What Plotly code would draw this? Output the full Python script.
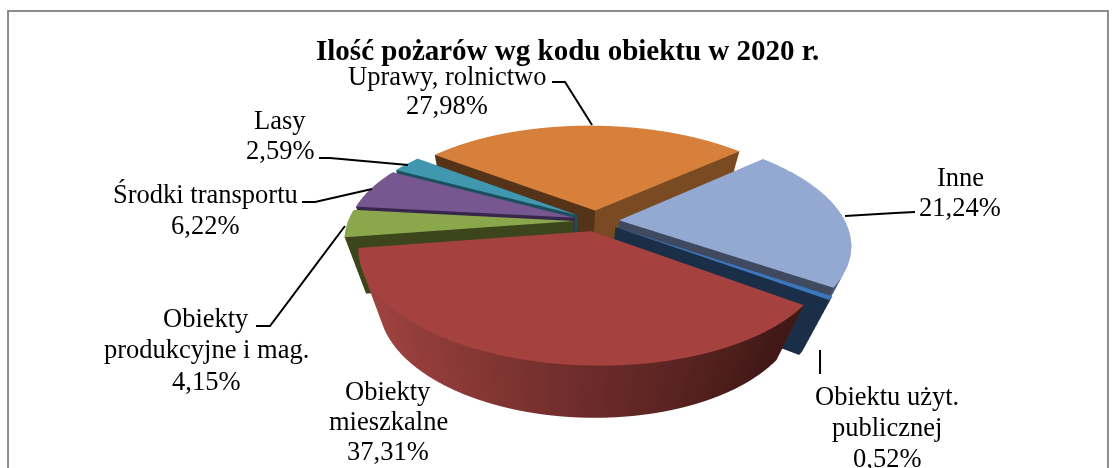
import numpy as np
import plotly.graph_objects as go

categories = ["Uprawy, rolnictwo", "Inne", "Obiektu użyt. publicznej", "Obiekty mieszkalne",
              "Obiekty produkcyjne i mag.", "Środki transportu", "Lasy"]
values = [27.98, 21.24, 0.52, 37.31, 4.15, 6.22, 2.59]
label_lines = [["Uprawy, rolnictwo", "27,98%"], ["Inne", "21,24%"], ["Obiektu użyt.", "publicznej", "0,52%"],
               ["Obiekty", "mieszkalne", "37,31%"], ["Obiekty", "produkcyjne i mag.", "4,15%"],
               ["Środki transportu", "6,22%"], ["Lasy", "2,59%"]]
title_text = "Ilość pożarów wg kodu obiektu w 2020 r."

top_colors = ["#D7803C", "#94A9D1", "#3C76BD", "#A5423F", "#8AA74C", "#76578F", "#3F97B0"]
side_start = ["#553318", "#3F4A60", "#1A2F47", "#421A17", "#3C451C", "#38264D", "#1C4E5C"]
side_end = ["#7A4B22", "#3F4A60", "#1A2F47", "#421A17", "#3C451C", "#38264D", "#1C4E5C"]
rim_left = ["#7A4B22", "#3F4A60", "#1A2F47", "#9E4240", "#3C451C", "#38264D", "#1C4E5C"]
rim_right = ["#7A4B22", "#4A5773", "#1A2F47", "#401816", "#3C451C", "#38264D", "#1C4E5C"]

W, H = 1116, 468
START_DEG, PULL, DEPTH = -52.0, 0.10, 0.39
EYE_D, EYE_ELEV = 2.1, 45.0
ASPECT_X, ASPECT_Y, ASPECT_Z = 2.46, 1.65, 2.42
CENTER_X, CENTER_Z = -0.14, 0.247


def hex_rgb(c):
    return np.array([int(c[i:i + 2], 16) for i in (1, 3, 5)], dtype=float)


def rgb_str(a):
    return "rgb(%d,%d,%d)" % tuple(np.round(a))


def slice_mesh(a0, a1, i):
    mid = np.radians((a0 + a1) / 2)
    ox, oy = PULL * np.sin(mid), PULL * np.cos(mid)
    th = np.radians(np.linspace(a0, a1, max(3, int((a1 - a0) / 1.5) + 2)))
    rx, ry = ox + np.sin(th), oy + np.cos(th)
    n = len(th)
    xs, ys, zs, cols, I, J, K = [], [], [], [], [], [], []

    def add(x, y, z, c):
        xs.append(x); ys.append(y); zs.append(z); cols.append(c)
        return len(xs) - 1

    def tri(a, b, c):
        I.append(a); J.append(b); K.append(c)

    def quad(a, b, c, d):
        tri(a, b, c); tri(a, c, d)

    top = top_colors[i]
    c0 = add(ox, oy, DEPTH, top)
    idx = [add(rx[k], ry[k], DEPTH, top) for k in range(n)]
    for k in range(n - 1):
        tri(c0, idx[k], idx[k + 1])
    for col, k in ((side_start[i], 0), (side_end[i], n - 1)):
        a = add(ox, oy, DEPTH, col); b = add(ox, oy, 0, col)
        c = add(rx[k], ry[k], 0, col); d = add(rx[k], ry[k], DEPTH, col)
        quad(a, b, c, d)
    L, R = hex_rgb(rim_left[i]), hex_rgb(rim_right[i])
    up, lo = [], []
    for k in range(n):
        t = np.clip((rx[k] + 0.9) / 1.6, 0, 1)
        col = rgb_str(L + (R - L) * t)
        up.append(add(rx[k], ry[k], DEPTH, col))
        lo.append(add(rx[k], ry[k], 0, col))
    for k in range(n - 1):
        quad(up[k], lo[k], lo[k + 1], up[k + 1])
    return go.Mesh3d(x=xs, y=ys, z=zs, i=I, j=J, k=K, vertexcolor=cols, name=categories[i],
                     flatshading=True, hoverinfo="name",
                     lighting=dict(ambient=1, diffuse=0, specular=0, roughness=1, fresnel=0))


fig = go.Figure()
total = sum(values)
cum = START_DEG
for i, v in enumerate(values):
    span = v / total * 360
    fig.add_trace(slice_mesh(cum, cum + span, i))
    cum += span


def px(x):
    return x / W


def py(y):
    return 1 - y / H


def leader(points, color="black"):
    d = "M " + " L ".join(f"{px(x):.4f},{py(y):.4f}" for x, y in points)
    return dict(type="path", xref="paper", yref="paper", path=d, line=dict(color=color, width=2), layer="above")


leaders = [
    [(552, 82), (565, 82), (592, 125)],
    [(915, 212), (895, 213), (845, 216)],
    [(820, 350), (820, 374)],
    [(256, 326), (270, 326), (345, 226)],
    [(302, 202), (315, 202), (372, 189)],
    [(319, 158), (330, 158), (408, 165)],
]
shapes = [leader(p) for p in leaders]
shapes.append(leader([(8, 468), (8, 11), (1108, 11), (1108, 468)], "#8C8C8C"))

label_x = [447, 960, 887, 388, 206, 205, 280]
label_y = [[76, 105], [177, 207], [396, 427, 458], [391, 421, 451], [318, 349, 381], [194, 225], [120, 150]]
annotations = []
for lines, x, ys in zip(label_lines, label_x, label_y):
    for t, y in zip(lines, ys):
        annotations.append(dict(text=t, x=px(x), y=py(y), xref="paper", yref="paper", showarrow=False,
                                xanchor="center", yanchor="middle",
                                font=dict(family="Liberation Serif", size=26.5, color="black")))
annotations.append(dict(text="<b>" + title_text + "</b>", x=px(567), y=py(50), xref="paper", yref="paper",
                        showarrow=False, xanchor="center", yanchor="middle",
                        font=dict(family="Liberation Serif", size=29, color="black")))

elev = np.radians(EYE_ELEV)
axis = dict(visible=False, range=[-1.5, 1.5])
fig.update_layout(
    width=W, height=H, margin=dict(l=0, r=0, t=0, b=0), paper_bgcolor="white", showlegend=False,
    scene=dict(xaxis=axis, yaxis=axis, zaxis=axis, aspectmode="manual",
               aspectratio=dict(x=ASPECT_X, y=ASPECT_Y, z=ASPECT_Z), domain=dict(x=[0, 1], y=[0, 1]),
               bgcolor="rgba(0,0,0,0)",
               camera=dict(eye=dict(x=CENTER_X, y=-EYE_D * np.cos(elev), z=EYE_D * np.sin(elev) + CENTER_Z),
                           center=dict(x=CENTER_X, y=0, z=CENTER_Z), up=dict(x=0, y=0, z=1))),
    shapes=shapes, annotations=annotations,
)
fig.write_html("out.html", config={"displayModeBar": False}, post_script="document.body.style.margin='0';")
